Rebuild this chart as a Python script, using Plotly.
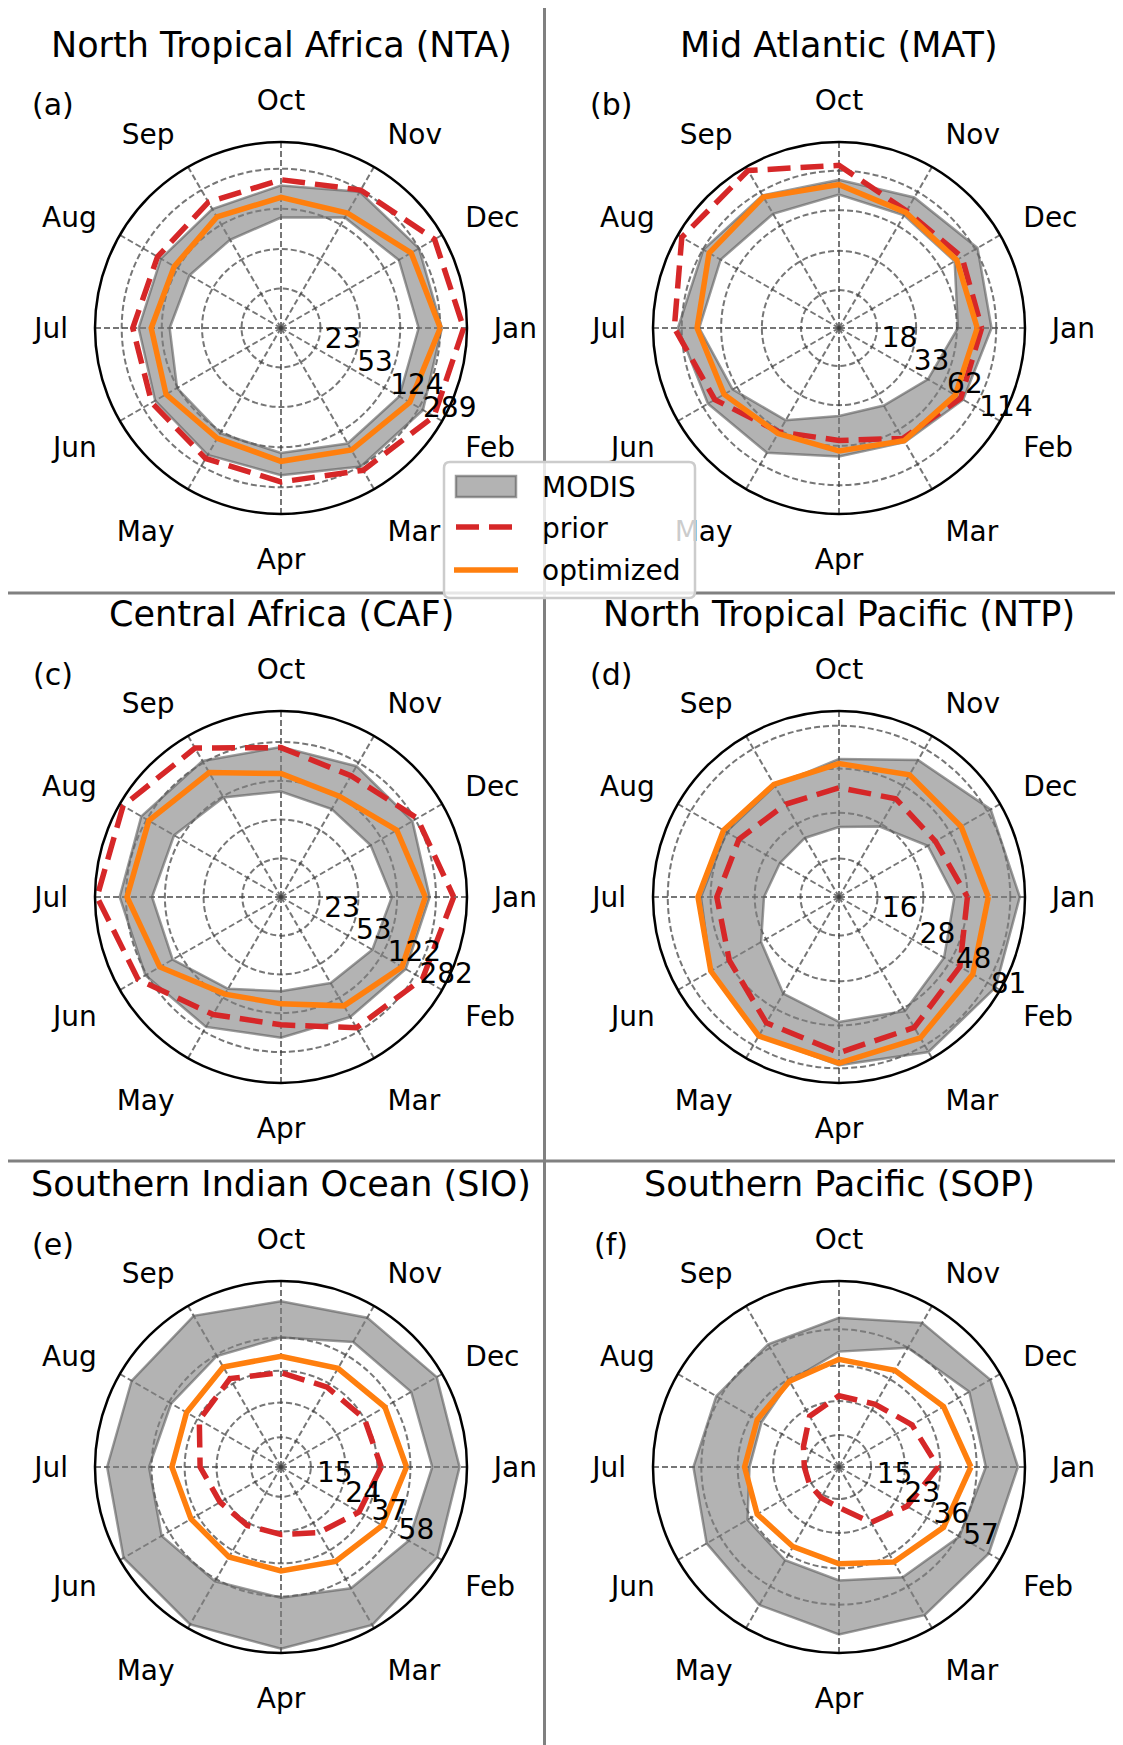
import numpy as np
import plotly.graph_objects as go

months = ["Jan", "Feb", "Mar", "Apr", "May", "Jun",
          "Jul", "Aug", "Sep", "Oct", "Nov", "Dec"]

titles = ["North Tropical Africa (NTA)", "Mid Atlantic (MAT)",
          "Central Africa (CAF)", "North Tropical Pacific (NTP)",
          "Southern Indian Ocean (SIO)", "Southern Pacific (SOP)"]
tags = ["(a)", "(b)", "(c)", "(d)", "(e)", "(f)"]
series_names = ["MODIS", "prior", "optimized"]

# MODIS range (min / max), prior and optimized, Jan..Dec
modis_min_nta = [183, 179, 167, 140, 130, 126, 105, 93, 86, 103, 148, 177]
modis_max_nta = [299, 319, 293, 224, 221, 215, 202, 187, 182, 203, 277, 289]
prior_nta = [473, 417, 321, 258, 241, 234, 229, 203, 215, 229, 289, 423]
opt_nta = [289, 231, 196, 167, 147, 165, 155, 135, 150, 158, 165, 239]
ticks_nta = [23, 53, 124, 289]

modis_min_mat = [63, 49, 40, 39, 52, 67, 87, 83, 77, 79, 75, 79]
modis_max_mat = [106, 92, 77, 73, 93, 104, 121, 113, 107, 99, 103, 119]
prior_mat = [91, 88, 72, 57, 64, 92, 128, 166, 167, 124, 81, 90]
opt_mat = [85, 80, 75, 67, 66, 78, 90, 102, 104, 92, 79, 82]
ticks_mat = [18, 33, 62, 114]

modis_min_caf = [109, 97, 85, 76, 98, 148, 161, 143, 119, 97, 89, 93]
modis_max_caf = [246, 223, 198, 207, 253, 292, 323, 323, 295, 253, 259, 263]
prior_caf = [413, 338, 259, 157, 186, 350, 527, 508, 407, 250, 204, 297]
opt_caf = [224, 203, 150, 100, 112, 204, 276, 268, 221, 143, 123, 178]
ticks_caf = [23, 53, 122, 282]

modis_min_ntp = [41, 44, 50, 46, 39, 30, 25, 23, 23, 23.5, 27, 35]
modis_max_ntp = [91, 91, 89, 78, 71, 61, 54, 49, 48, 54, 69, 85]
prior_ntp = [48, 55, 63, 67, 59, 47, 44.5, 41, 37, 38, 40, 39]
opt_ntp = [62, 66, 73, 76, 71, 61, 56, 51, 49, 51, 56, 56]
ticks_ntp = [16, 28, 48, 81]

modis_min_sio = [78, 74, 67, 59, 60, 65, 60, 56, 57, 58, 71, 77]
modis_max_sio = [113, 116, 119, 118, 118, 118, 106, 104, 107, 95, 104, 115]
prior_sio = [39, 34, 28, 25, 25, 26, 30, 36, 40, 36, 35, 37]
opt_sio = [55, 49, 44, 41, 41, 41, 44, 44, 48, 45, 47, 51]
ticks_sio = [15, 24, 37, 58]

modis_min_sop = [64, 58, 50, 42, 39, 38, 31, 31, 35, 43, 57, 67]
modis_max_sop = [96, 89, 87, 83, 75, 69, 63, 60, 60, 66, 82, 91]
prior_sop = [35, 27, 22.5, 16.7, 15.7, 15.4, 15.5, 16.8, 21, 24.6, 25, 29]
opt_sop = [53, 46, 40, 34, 32, 33, 33, 33, 35, 39, 41, 46]
ticks_sop = [15, 23, 36, 57]

# radial limits (log axis, centre at r_min)
r_min = 10
r_max = [508, 178, 550, 97, 125, 105]

panels = [
    (modis_min_nta, modis_max_nta, prior_nta, opt_nta, ticks_nta),
    (modis_min_mat, modis_max_mat, prior_mat, opt_mat, ticks_mat),
    (modis_min_caf, modis_max_caf, prior_caf, opt_caf, ticks_caf),
    (modis_min_ntp, modis_max_ntp, prior_ntp, opt_ntp, ticks_ntp),
    (modis_min_sio, modis_max_sio, prior_sio, opt_sio, ticks_sio),
    (modis_min_sop, modis_max_sop, prior_sop, opt_sop, ticks_sop),
]

# page geometry (pixels); the page puts the figure 8px in from the corner
W, H = 1123, 1745
OFF = 8
R = 186
centers = [(281, 328), (839, 328), (281, 897), (839, 897), (281, 1467), (839, 1467)]
FONT = "DejaVu Sans"
GRID = "rgba(60,60,60,0.7)"
GRIDDASH = "6px,3px"
BAND_FILL = "rgba(128,128,128,0.6)"
BAND_EDGE = "rgba(90,90,90,0.6)"
RED = "#d62728"
ORANGE = "#ff7f0e"
DASH = "23px,10px"


def px(x):
    return (x - OFF) / W


def py(y):
    return 1 - (y - OFF) / H


def closed(v):
    return list(v) + [v[0]]


theta = closed(months)
fig = go.Figure()
annotations = []

for i, (mmin, mmax, prior, opt, ticks) in enumerate(panels):
    sub = "polar" if i == 0 else "polar%d" % (i + 1)

    # MODIS band: inner edge, then outer edge filled back to it
    fig.add_trace(go.Scatterpolar(
        r=closed(mmin), theta=theta, mode="lines", subplot=sub,
        line=dict(color=BAND_EDGE, width=2.5),
        name=series_names[0], showlegend=False, hoverinfo="skip"))
    fig.add_trace(go.Scatterpolar(
        r=closed(mmax), theta=theta, mode="lines", subplot=sub,
        fill="tonext", fillcolor=BAND_FILL,
        line=dict(color=BAND_EDGE, width=2.5),
        name=series_names[0], showlegend=False))
    fig.add_trace(go.Scatterpolar(
        r=closed(prior), theta=theta, mode="lines", subplot=sub,
        line=dict(color=RED, width=5.5, dash=DASH),
        name=series_names[1], showlegend=False))
    fig.add_trace(go.Scatterpolar(
        r=closed(opt), theta=theta, mode="lines", subplot=sub,
        line=dict(color=ORANGE, width=5.5),
        name=series_names[2], showlegend=False))

    cx, cy = centers[i]
    fig.update_layout(**{sub: dict(
        domain=dict(x=[px(cx - R), px(cx + R)], y=[py(cy + R), py(cy - R)]),
        bgcolor="white",
        angularaxis=dict(
            type="category", categoryarray=months,
            rotation=0, direction="clockwise",
            showline=True, linecolor="black", linewidth=2.5,
            showgrid=True, gridcolor=GRID, gridwidth=1.6, griddash=GRIDDASH,
            ticks="outside", ticklen=20, tickcolor="rgba(0,0,0,0)",
            tickfont=dict(family=FONT, size=28, color="black")),
        radialaxis=dict(
            type="log", range=[np.log10(r_min), np.log10(r_max[i])],
            tickvals=ticks, ticktext=[str(t) for t in ticks],
            angle=-35, tickangle=-35, side="counterclockwise",
            showline=False, ticks="",
            showgrid=True, gridcolor=GRID, gridwidth=1.6, griddash=GRIDDASH,
            tickfont=dict(family=FONT, size=28, color="black")),
    )})

    annotations.append(dict(
        text=titles[i], x=px(cx), y=py(cy - 283),
        xref="paper", yref="paper", xanchor="center", yanchor="middle",
        showarrow=False, font=dict(family=FONT, size=35, color="black")))
    annotations.append(dict(
        text=tags[i], x=px(cx - 228), y=py(cy - 223),
        xref="paper", yref="paper", xanchor="center", yanchor="middle",
        showarrow=False, font=dict(family=FONT, size=30, color="black")))

# panel dividers
shapes = [
    dict(type="line", xref="paper", yref="paper", x0=px(544.5), x1=px(544.5),
         y0=0, y1=1, line=dict(color="gray", width=3)),
    dict(type="line", xref="paper", yref="paper", x0=0, x1=1,
         y0=py(593), y1=py(593), line=dict(color="gray", width=3)),
    dict(type="line", xref="paper", yref="paper", x0=0, x1=1,
         y0=py(1161), y1=py(1161), line=dict(color="gray", width=3)),
]

# legend box (drawn by hand so the MODIS patch looks like a filled box)
lx0, lx1, ly0, ly1, rad = 444, 695, 462, 598, 6
ax0, ax1, ay0, ay1 = px(lx0), px(lx1), py(ly0), py(ly1)
rx, ry = rad / W, rad / H
box = ("M {a},{t} L {b},{t} Q {x1},{t} {x1},{c} L {x1},{d} Q {x1},{bt} {b},{bt} "
       "L {a},{bt} Q {x0},{bt} {x0},{d} L {x0},{c} Q {x0},{t} {a},{t} Z").format(
    a=ax0 + rx, b=ax1 - rx, t=ay0, bt=ay1, c=ay0 - ry, d=ay1 + ry, x0=ax0, x1=ax1)
shapes.append(dict(type="path", xref="paper", yref="paper", path=box,
                   fillcolor="rgba(255,255,255,0.8)",
                   line=dict(color="#cccccc", width=2.5)))
shapes.append(dict(type="rect", xref="paper", yref="paper",
                   x0=px(456), x1=px(516), y0=py(476), y1=py(497),
                   fillcolor=BAND_FILL, line=dict(color=BAND_EDGE, width=2.5)))
shapes.append(dict(type="line", xref="paper", yref="paper",
                   x0=px(456), x1=px(516), y0=py(527), y1=py(527),
                   line=dict(color=RED, width=5.5, dash=DASH)))
shapes.append(dict(type="line", xref="paper", yref="paper",
                   x0=px(454), x1=px(518), y0=py(570), y1=py(570),
                   line=dict(color=ORANGE, width=5.5)))
for name, yy in zip(series_names, [487, 528, 570]):
    annotations.append(dict(
        text=name, x=px(540), y=py(yy), xref="paper", yref="paper",
        xanchor="left", yanchor="middle", showarrow=False,
        font=dict(family=FONT, size=28, color="black")))

fig.update_layout(
    width=W, height=H,
    margin=dict(l=0, r=0, t=0, b=0),
    paper_bgcolor="white",
    font=dict(family=FONT, size=28, color="black"),
    annotations=annotations,
    shapes=shapes,
    showlegend=False,
)

fig.write_html("out.html")
